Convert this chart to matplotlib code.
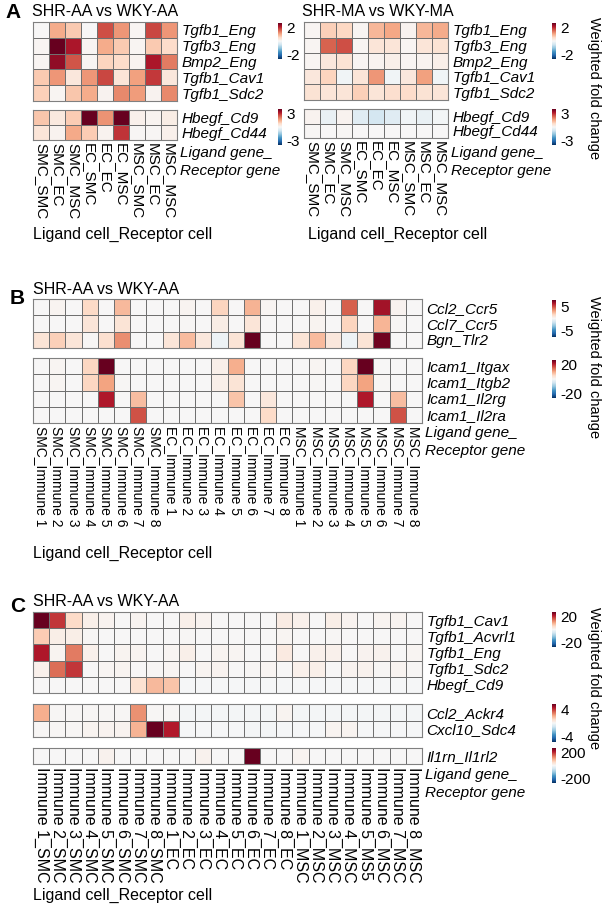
import numpy as np
import matplotlib
matplotlib.use('Agg')
import matplotlib.pyplot as plt

plt.rcParams['font.family'] = ['Liberation Sans', 'DejaVu Sans']

# ---------------------------------------------------------------------------
# Datos
# ---------------------------------------------------------------------------
cols_A = ['SMC_SMC', 'SMC_EC', 'SMC_MSC', 'EC_SMC', 'EC_EC', 'EC_MSC', 'MSC_SMC', 'MSC_EC', 'MSC_MSC']
rows_A1 = ['Tgfb1_Eng', 'Tgfb3_Eng', 'Bmp2_Eng', 'Tgfb1_Cav1', 'Tgfb1_Sdc2']
rows_A2 = ['Hbegf_Cd9', 'Hbegf_Cd44']

A_aa_1 = [[0.0, 1.0, 0.7, 0.0, 1.75, 1.2, 0.05, 1.8, 1.2],
          [0.05, 3.0, 2.2, 0.05, 1.0, 0.7, 0.05, 0.7, 0.5],
          [0.05, 2.4, 1.7, 0.05, 0.6, 0.5, 0.1, 2.2, 1.4],
          [0.7, 1.2, 0.3, 1.2, 1.8, 0.35, 1.1, 1.9, 0.3],
          [0.65, 0.05, 0.75, 1.0, 0.1, 1.3, 1.15, 0.1, 1.3]]
A_aa_2 = [[1.1, 0.4, 1.0, 4.5, 1.8, 4.4, 0.2, 0.1, 0.3],
          [0.5, 0.15, 1.5, 1.0, 0.15, 2.9, 0.05, 0.05, 0.2]]

A_ma_1 = [[0.05, 0.65, 0.55, 0.05, 0.9, 1.05, 0.1, 0.9, 1.0],
          [0.05, 1.6, 1.75, 0.05, 0.35, 0.35, 0.05, 0.35, 0.4],
          [0.05, 0.3, 0.4, 0.05, 0.1, 0.15, 0.05, 0.1, 0.15],
          [0.3, 0.6, -0.1, 0.35, 1.2, -0.1, 0.3, 1.1, -0.1],
          [0.4, 0.35, 0.35, 0.65, 0.35, 0.45, 0.5, 0.4, 0.35]]
A_ma_2 = [[0.15, -0.3, 0.15, -0.5, -0.7, -0.5, -0.15, -0.3, -0.1],
          [0.05, 0.0, 0.05, 0.0, 0.0, 0.0, 0.0, 0.0, 0.0]]

cols_B = ['SMC_Immune 1', 'SMC_Immune 2', 'SMC_Immune 3', 'SMC_Immune 4', 'SMC_Immune 5', 'SMC_Immune 6',
          'SMC_Immune 7', 'SMC_Immune 8', 'EC_Immune 1', 'EC_Immune 2', 'EC_Immune 3', 'EC_Immune 4',
          'EC_Immune 5', 'EC_Immune 6', 'EC_Immune 7', 'EC_Immune 8', 'MSC_Immune 1', 'MSC_Immune 2',
          'MSC_Immune 3', 'MSC_Immune 4', 'MSC_Immune 5', 'MSC_Immune 6', 'MSC_Immune 7', 'MSC_Immune 8']
rows_B1 = ['Ccl2_Ccr5', 'Ccl7_Ccr5', 'Bgn_Tlr2']
rows_B2 = ['Icam1_Itgax', 'Icam1_Itgb2', 'Icam1_Il2rg', 'Icam1_Il2ra']

B_1 = [[0.0, 0.2, 0.05, 1.6, 0.05, 2.6, 0.05, 0.05, 0.05, 0.2, 0.05, 1.8,
        0.05, 2.8, 0.15, 0.05, 0.05, 0.4, 0.05, 4.8, 0.05, 6.7, 0.3, 0.05],
       [0.05, 0.05, 0.05, 1.0, 0.05, 1.1, 0.05, 0.05, 0.05, 0.1, 0.05, 0.6,
        0.05, 1.0, 0.05, 0.05, 0.05, 0.2, 0.05, 1.8, 0.05, 2.7, 0.1, 0.05],
       [1.1, 1.9, 1.0, 0.1, 1.3, 3.7, 0.05, 0.05, 1.0, 2.5, 0.9, -0.4,
        1.1, 8.0, 0.05, 0.05, 1.1, 2.5, 0.9, -0.4, 1.1, 7.8, 0.05, 0.05]]
B_2 = [[0.05, 0.5, 0.05, 5.5, 26, 0.05, 0.05, 0.05, 0.05, 0.05, 0.05, 1.5,
        9.5, 0.05, 0.05, 0.05, 0.05, 0.5, 0.05, 5.5, 26, 0.05, 0.05, 0.05],
       [0.05, 0.6, 0.05, 5.5, 10.5, 0.4, 0.05, 0.05, 0.05, 0.05, 0.05, 1.5,
        3.5, 0.05, 0.05, 0.05, 0.05, 0.3, 0.05, 5.5, 10.5, 0.4, 0.05, 0.05],
       [0.05, 0.05, 0.05, 0.05, 21, 0.05, 8.0, 0.05, 0.05, 0.05, 0.05, 0.05,
        7.5, 0.05, 3.0, 0.05, 0.05, 0.05, 0.05, 0.05, 21, 0.05, 8.0, 0.05],
       [0.05, 0.05, 0.05, 0.05, 0.05, 0.05, 16.5, 0.05, 0.05, 0.05, 0.05, 0.05,
        0.05, 0.05, 5.0, 0.05, 0.05, 0.05, 0.05, 0.05, 0.05, 0.05, 16.5, 0.05]]

cols_C = ['Immune 1_SMC', 'Immune 2_SMC', 'Immune 3_SMC', 'Immune 4_SMC', 'Immune 5_SMC', 'Immune 6_SMC',
          'Immune 7_SMC', 'Immune 8_SMC', 'Immune 1_EC', 'Immune 2_EC', 'Immune 3_EC', 'Immune 4_EC',
          'Immune 5_EC', 'Immune 6_EC', 'Immune 7_EC', 'Immune 8_EC', 'Immune 1_MSC', 'Immune 2_MSC',
          'Immune 3_MSC', 'Immune 4_MSC', 'Immune 5_MS5', 'Immune 6_MSC', 'Immune 7_MSC', 'Immune 8_MSC']
rows_C1 = ['Tgfb1_Cav1', 'Tgfb1_Acvrl1', 'Tgfb1_Eng', 'Tgfb1_Sdc2', 'Hbegf_Cd9']
rows_C2 = ['Ccl2_Ackr4', 'Cxcl10_Sdc4']
rows_C3 = ['Il1rn_Il1rl2']

C_1 = [[26, 18.5, 5.0, 1.5, 1.0, 0.2, 0.8, 0.2, 0.1, 1.5, 1.0, 0.1,
        0.1, 0.1, 0.2, 2.2, 1.3, 0.2, 1.8, 1.0, 0.2, 0.8, 0.8, 0.2],
       [6.5, 1.7, 1.7, 0.3, 0.2, 0.2, 0.2, 0.2, 0.2, 0.3, 0.2, 0.2,
        0.2, 0.2, 0.2, 0.5, 0.2, 0.2, 0.3, 0.2, 0.2, 0.2, 0.2, 0.2],
       [21, 0.8, 13.5, 1.4, 0.2, 0.8, 0.8, 0.2, 0.6, 1.5, 0.2, 0.8,
        0.5, 0.2, 0.2, 2.3, 0.2, 1.4, 1.3, 0.2, 0.9, 1.1, 0.2, 0.5],
       [1.3, 14.5, 18.5, 0.2, 0.6, 0.8, 0.2, 0.3, 0.6, 0.2, 0.8, 1.0,
        0.2, 0.3, 0.5, 0.2, 1.3, 1.5, 0.2, 1.0, 1.1, 0.3, 0.8, 0.3],
       [0.1, 0.1, 0.1, 0.1, 0.1, 0.1, 4.0, 8.5, 7.5, -0.3, -0.3, -0.3,
        -0.3, -0.3, -0.3, -0.3, -0.3, -0.3, -0.3, -0.3, -0.3, -0.3, -0.3, -0.3]]
C_2 = [[2.0, 0.05, 0.05, 0.05, 0.05, 0.05, 2.5, 0.05, 0.05, -0.1, -0.1, -0.1,
        -0.1, -0.1, -0.1, 0.15, -0.1, -0.1, -0.1, -0.1, -0.1, -0.1, -0.1, -0.1],
       [0.05, 0.05, 0.05, 0.15, 0.2, 0.2, 1.9, 5.5, 4.4, -0.05, -0.05, -0.05,
        -0.05, -0.1, -0.1, -0.05, -0.05, -0.05, 0.15, 0.15, -0.05, -0.05, -0.05, -0.05]]
C_3 = [[1, 1, 1, 1, 12, 1, 1, 1, 1, 1, 12, 1,
        1, 260, 1, 1, 7, 1, 1, 1, 1, 1, 1, 1]]

# ---------------------------------------------------------------------------
# Figura
# ---------------------------------------------------------------------------
W, H = 606, 907
fig = plt.figure(figsize=(W / 100, H / 100), dpi=100)


def px_axes(x0, y0, x1, y1):
    return fig.add_axes([x0 / W, 1 - y1 / H, (x1 - x0) / W, (y1 - y0) / H])


def heat(box, data, rows, vmax, cols=None, xfs=10):
    ax = px_axes(*box)
    arr = np.array(data, dtype=float)
    m = ax.pcolormesh(arr, cmap='RdBu_r', vmin=-vmax, vmax=vmax,
                      edgecolors='#707070', linewidth=0.55)
    ax.set_xlim(0, arr.shape[1])
    ax.set_ylim(arr.shape[0], 0)
    ax.yaxis.tick_right()
    ax.set_yticks(np.arange(len(rows)) + 0.5)
    ax.set_yticklabels(rows, fontsize=11, style='italic')
    ax.tick_params(axis='y', length=0, pad=3)
    if cols is None:
        ax.set_xticks([])
    else:
        ax.set_xticks(np.arange(len(cols)) + 0.5)
        ax.set_xticklabels(cols, rotation=-90, fontsize=xfs, va='top', ha='center')
        ax.tick_params(axis='x', length=0, pad=2)
    for s in ax.spines.values():
        s.set_color('#808080')
        s.set_linewidth(0.8)
    return m


def cbar(m, box, ticks):
    cax = px_axes(*box)
    cb = fig.colorbar(m, cax=cax, ticks=ticks)
    cb.outline.set_visible(False)
    cb.ax.tick_params(length=0, pad=3, labelsize=11)
    cb.ax.set_yticklabels([str(t) for t in ticks])


# Panel A
m = heat((33, 22, 177, 101), A_aa_1, rows_A1, 2.7)
cbar(m, (278, 23, 282, 59), [2, -2])
m = heat((33, 110, 177, 140), A_aa_2, rows_A2, 4.0, cols_A, xfs=11)
cbar(m, (278, 109, 282, 145), [3, -3])

m = heat((304, 22, 448, 100), A_ma_1, rows_A1, 2.7)
cbar(m, (552, 23, 556, 59), [2, -2])
m = heat((304, 109, 448, 138), A_ma_2, rows_A2, 4.0, cols_A, xfs=11)
cbar(m, (552, 109, 556, 145), [3, -3])

# Panel B
m = heat((33, 299, 422, 348), B_1, rows_B1, 8.0)
cbar(m, (552, 300, 556, 337), [5, -5])
m = heat((33, 358, 422, 423), B_2, rows_B2, 26, cols_B, xfs=10)
cbar(m, (552, 360, 556, 398), [20, -20])

# Panel C
m = heat((33, 612, 422, 693), C_1, rows_C1, 26)
cbar(m, (552, 612, 556, 647), [20, -20])
m = heat((33, 704, 422, 737), C_2, rows_C2, 5.5)
cbar(m, (552, 704, 556, 742), [4, -4])
m = heat((33, 748, 422, 764), C_3, rows_C3, 260, cols_C, xfs=11.5)
cbar(m, (552, 748, 556, 783), [200, -200])

# Textos
def txt(x, y, s, **kw):
    fig.text(x / W, 1 - y / H, s, **kw)


for x, y, s in [(5, 13, 'A'), (10, 298, 'B'), (10, 607, 'C')]:
    txt(x, y, s, fontsize=15, fontweight='bold', va='center')

for x, y, s in [(32, 12, 'SHR-AA vs WKY-AA'), (302, 12, 'SHR-MA vs WKY-MA'),
                (33, 290, 'SHR-AA vs WKY-AA'), (33, 601, 'SHR-AA vs WKY-AA')]:
    txt(x, y, s, fontsize=11.5, va='center')

for x, y in [(180, 153), (451, 153), (425, 433), (425, 775)]:
    txt(x, y, 'Ligand gene_', fontsize=11, style='italic', va='center')
    txt(x, y + 18, 'Receptor gene', fontsize=11, style='italic', va='center')

for x, y in [(33, 234), (308, 234), (33, 553), (33, 895)]:
    txt(x, y, 'Ligand cell_Receptor cell', fontsize=11.5, va='center')

for y in [88, 367, 678]:
    txt(594, y, 'Weighted fold change', fontsize=10.5, rotation=-90, va='center', ha='center')

fig.savefig('out.png', dpi=100)
